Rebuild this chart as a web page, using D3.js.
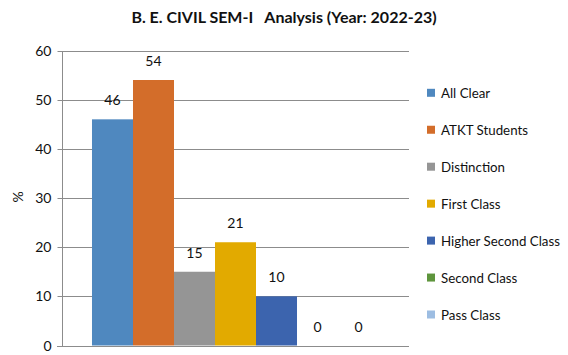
<!DOCTYPE html>
<html><head><meta charset="utf-8">
<script src="https://cdn.jsdelivr.net/npm/d3@7"></script>
<style>body{margin:0;background:#fff}svg{display:block}text{font-family:Lato,"Noto Sans",sans-serif;fill:#111}</style>
</head><body><svg id="c" width="568" height="355"></svg>
<script>
const title = "B. E. CIVIL SEM-I\u00a0\u00a0\u00a0Analysis (Year: 2022-23)";
const categories = ["B. E. CIVIL SEM-I"];
const seriesNames = ["All Clear","ATKT Students","Distinction","First Class","Higher Second Class","Second Class","Pass Class"];
const seriesValues = [46,54,15,21,10,0,0];
const seriesColors = ["#4F88BF","#D36D2A","#959595","#E2AA00","#3C64AE","#5E953D","#9DBDE2"];
const yTicks = [0,10,20,30,40,50,60];
const yLabel = "%";

const svg = d3.select("#c");
const m = {l:62, r:409, t:50.5, b:345.5};
const y = d3.scaleLinear().domain([0,60]).range([m.b,m.t]);
const x0 = d3.scaleBand().domain(categories).range([m.l,m.r]).paddingInner(0).paddingOuter(0.1045);
const x1 = d3.scaleBand().domain(seriesNames).range([0,x0.bandwidth()]);

// gridlines
svg.append("g").selectAll("line").data(yTicks.filter(d=>d>0)).join("line")
  .attr("x1",m.l).attr("x2",m.r).attr("y1",d=>Math.round(y(d))+0.5).attr("y2",d=>Math.round(y(d))+0.5)
  .attr("stroke","#8c8c8c").attr("stroke-width",1);

// y axis
const ya = svg.append("g").attr("transform",`translate(${m.l+0.5},0.5)`)
  .call(d3.axisLeft(y).tickValues(yTicks).tickSize(5).tickPadding(6).tickFormat(d3.format("d")));
ya.select(".domain").attr("stroke","#8c8c8c").attr("d",`M0,${y(60)}V${y(0)}`);
ya.selectAll(".tick line").attr("stroke","#8c8c8c");
ya.selectAll(".tick text").attr("font-size","14px").attr("font-family","Lato,sans-serif").attr("fill","#111");
ya.selectAll(".tick").attr("transform",d=>`translate(0,${Math.round(y(d))})`);

// baseline
svg.append("line").attr("x1",m.l-5).attr("x2",m.r).attr("y1",Math.round(y(0))+0.5).attr("y2",Math.round(y(0))+0.5)
  .attr("stroke","#8c8c8c");

// bars
const g = svg.append("g").attr("transform",`translate(${x0(categories[0])},0)`);
g.selectAll("rect").data(seriesNames).join("rect")
  .attr("x",(d)=>x1(d)).attr("width",x1.bandwidth())
  .attr("y",(d,i)=>y(seriesValues[i])).attr("height",(d,i)=>y(0)-y(seriesValues[i]))
  .attr("fill",(d,i)=>seriesColors[i]);
g.selectAll("text").data(seriesNames).join("text")
  .attr("x",d=>x1(d)+x1.bandwidth()/2).attr("y",(d,i)=>y(seriesValues[i])-14)
  .attr("text-anchor","middle").attr("font-size","14px").text((d,i)=>seriesValues[i]);

// title
svg.append("text").attr("x",284).attr("y",23).attr("text-anchor","middle")
  .attr("font-size","16px").attr("font-weight","bold").text(title);

// y label
svg.append("text").attr("transform","translate(23,197) rotate(-90)").attr("text-anchor","middle")
  .attr("font-size","14px").text(yLabel);

// legend
const lg = svg.append("g").selectAll("g").data(seriesNames).join("g")
  .attr("transform",(d,i)=>`translate(427,${93.3+i*36.95})`);
lg.append("rect").attr("x",0).attr("y",-4.5).attr("width",8).attr("height",8).attr("fill",(d,i)=>seriesColors[i]);
lg.append("text").attr("x",14).attr("y",4.8).attr("font-size","13.3px").text(d=>d);
</script></body></html>
